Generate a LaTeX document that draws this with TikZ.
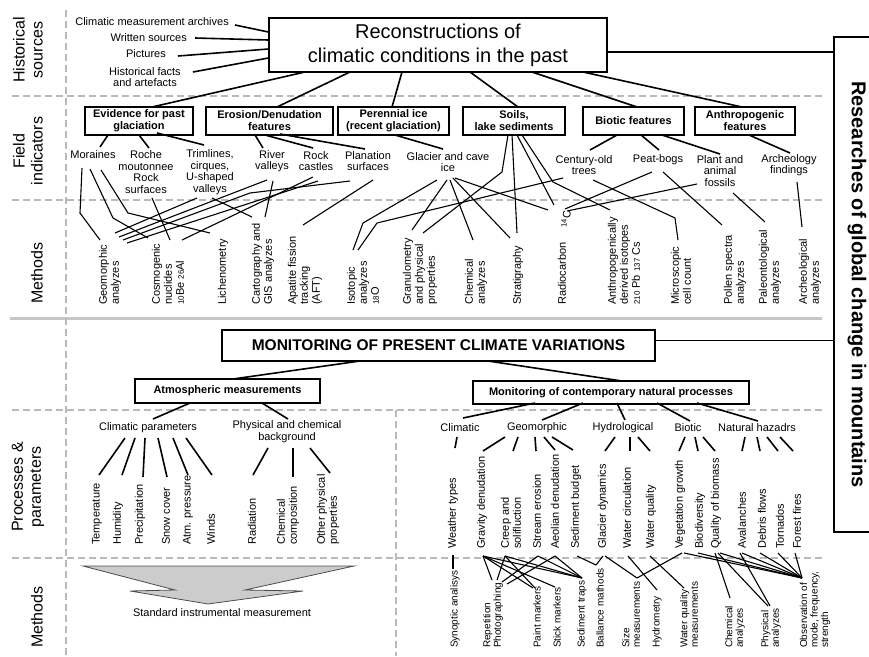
\documentclass[tikz,border=0pt]{standalone}
\usepackage{fontspec}
\setmainfont{Liberation Sans}
\usetikzlibrary{calc}
\newcommand{\smnum}[1]{{\fontsize{8}{8}\selectfont #1}}
\begin{document}
\begin{tikzpicture}[x=1pt,y=-1pt,
  txt/.style={font=\fontsize{11}{11.5}\selectfont,align=center,inner sep=0pt},
  vt/.style={font=\fontsize{11}{12}\selectfont,align=left,inner sep=0pt,rotate=90,anchor=west},
  vts/.style={vt,font=\fontsize{10}{10.5}\selectfont},
  fbox/.style={draw,line width=1.2pt,font=\bfseries\fontsize{11}{12}\selectfont,align=center,inner sep=0pt,minimum height=28pt},
  rowlab/.style={rotate=90,font=\fontsize{16}{18}\selectfont,align=center,inner sep=0pt},
  grid/.style={gray!55,line width=1.5pt,dash pattern=on 7pt off 4pt},
  conn/.style={line width=1.6pt},
  thin/.style={line width=1.1pt}
]
\useasboundingbox (0,0) rectangle (869,656);

% ---------- section grid ----------
\draw[grid] (12,96) -- (822,96);
\draw[grid] (12,200) -- (822,200);
\draw[gray!45,line width=3pt] (10,318) -- (822,318);
\draw[grid] (12,410) -- (822,410);
\draw[grid] (12,558) -- (822,558);
\draw[grid] (66,10) -- (66,656);
\draw[grid] (396,410) -- (396,656);

% ---------- row labels ----------
\node[rowlab] (rl1) at (28,50) {Historical\\sources};
\node[rowlab] (rl2) at (28,151) {Field\\indicators};
\node[rowlab] (rl3) at (37,273) {Methods};
\node[rowlab] (rl4) at (28,487) {Processes \&\\parameters};
\node[rowlab] (rl5) at (37,617) {Methods};

% ---------- overall frame on the right ----------
\node[draw,line width=1.2pt,rotate=-90,minimum width=495pt,minimum height=46pt,
      font=\bfseries\fontsize{20}{22}\selectfont,inner sep=0pt] (rb) at (857,284.5)
      {Researches of global change in mountains};

% ---------- reconstructions ----------
\node[draw,line width=1.2pt,minimum width=338pt,minimum height=54pt,
      font=\fontsize{20}{24}\selectfont,align=center,inner sep=0pt] (rec) at (438,45)
      {Reconstructions of\\climatic conditions in the past};
\draw[conn] ([shift={(0,7)}]rec.east) coordinate (r1) -- (r1 -| rb.south);

\node[txt,anchor=east] (hs1) at (229,22) {Climatic measurement archives};
\node[txt,anchor=east] (hs2) at (187,38) {Written sources};
\node[txt,anchor=east] (hs3) at (166,54) {Pictures};
\node[txt] (hs4) at (145,77) {Historical facts\\and artefacts};
\draw[conn] ([shift={(6,3)}]hs1.east) -- ([shift={(0,-13)}]rec.west);
\draw[conn] ([shift={(8,0)}]hs2.east) -- ([shift={(0,-5)}]rec.west);
\draw[conn] ([shift={(12,2)}]hs3.east) -- ([shift={(0,4)}]rec.west);
\draw[conn] ([shift={(48,-5)}]hs4.center) -- ([shift={(0,13)}]rec.west);

% field indicator groups
\node[fbox,minimum width=108pt] (ev) at (139,121) {Evidence for past\\glaciation};
\node[fbox,minimum width=127pt] (er) at (269.5,121) {Erosion/Denudation\\features};
\node[fbox,minimum width=111pt] (pi) at (393.5,121) {Perennial ice\\(recent glaciation)};
\node[fbox,minimum width=102pt] (so) at (514,121) {Soils,\\lake sediments};
\node[fbox,minimum width=101pt] (bi) at (633.5,121) {Biotic features};
\node[fbox,minimum width=100pt] (an) at (745,121) {Anthropogenic\\features};

\draw[conn] ([shift={(-133,27)}]rec.center) -- ([shift={(13,-14)}]ev.center);
\draw[conn] ([shift={(-88,27)}]rec.center) -- ([shift={(7.5,-14)}]er.center);
\draw[conn] ([shift={(-36,27)}]rec.center) -- ([shift={(-1.5,-14)}]pi.center);
\draw[conn] ([shift={(32,27)}]rec.center) -- ([shift={(4,-14)}]so.center);
\draw[conn] ([shift={(94,27)}]rec.center) -- ([shift={(3.5,-14)}]bi.center);
\draw[conn] ([shift={(145,27)}]rec.center) -- ([shift={(-3,-14)}]an.center);

% field indicators
\node[txt] (mor) at (93,155) {Moraines};
\node[txt] (roc) at (146,172) {Roche\\moutonnee\\Rock\\surfaces};
\node[txt] (tri) at (210,172) {Trimlines,\\cirques,\\U-shaped\\valleys};
\node[txt] (riv) at (272,161) {River\\valleys};
\node[txt] (rca) at (316,161) {Rock\\castles};
\node[txt] (pla) at (368,161) {Planation\\surfaces};
\node[txt] (gla) at (448,162) {Glacier and cave\\ice};
\node[txt] (cen) at (584,165) {Century-old\\trees};
\node[txt] (pea) at (658,160) {Peat-bogs};
\node[txt] (fos) at (720,171) {Plant and\\animal\\fossils};
\node[txt] (arc) at (789,165) {Archeology\\findings};

\draw[conn] ([shift={(-31,14)}]ev.center) -- ([shift={(7,-8)}]mor.center);
\draw[conn] ([shift={(0,14)}]ev.center) -- ([shift={(3,-24)}]roc.center);
\draw[conn] ([shift={(18,12)}]ev.center) -- ([shift={(-6,-27)}]tri.center);
\draw[conn] ([shift={(-14.5,14)}]er.center) -- ([shift={(-9,-13)}]riv.center);
\draw[conn] ([shift={(-4.5,14)}]er.center) -- ([shift={(-3,-13)}]rca.center);
\draw[conn] ([shift={(10.5,13)}]er.center) -- ([shift={(-3,-12)}]pla.center);
\draw[conn] ([shift={(1.5,14)}]pi.center) -- ([shift={(-5,-13)}]gla.center);
\draw[conn] ([shift={(-16.5,14)}]bi.center) -- ([shift={(6,-15)}]cen.center);
\draw[conn] ([shift={(7.5,14)}]bi.center) -- ([shift={(1,-10)}]pea.center);
\draw[conn] ([shift={(28.5,14)}]bi.center) -- ([shift={(0,-17)}]fos.center);
\draw[conn] ([shift={(4,14)}]an.center) -- ([shift={(1,-12)}]arc.center);

% methods of reconstruction
\node[vt] (geo) at (110,305) {Geomorphic\\analyzes};
\node[vt] (cos) at (168,305) {Cosmogenic\\nuclides\\\smnum{10}Be \smnum{26}Al};
\node[vt] (lic) at (223,305) {Lichenometry};
\node[vt] (car) at (263,305) {Cartography and\\GIS analyzes};
\node[vt] (apa) at (305,305) {Apatite fission\\tracking\\(AFT)};
\node[vt] (iso) at (363,305) {Isotopic\\analyzes\\\smnum{18}O};
\node[vt] (gra) at (420,305) {Granulometry\\and physical\\properties};
\node[vt] (che) at (476,305) {Chemical\\analyzes};
\node[vt] (str) at (518,305) {Stratigraphy};
\node[vt] (rad) at (562,305) {Radiocarbon};
\node[vt] (r14) at (566,228) {\textsuperscript{14}C};
\node[vt] (ant) at (624,305) {Anthropogenically\\derived isotopes\\\smnum{210} Pb \smnum{137} Cs};
\node[vt] (mic) at (681,305) {Microscopic\\cell count};
\node[vt] (pol) at (735,305) {Pollen spectra\\analyzes};
\node[vt] (pal) at (770,305) {Paleontological\\analyzes};
\node[vt] (marc) at (810,305) {Archeological\\analyzes};

\draw[thin] ([shift={(-11,13)}]mor.center) -- (80,213) -- ([shift={(-10,-65)}]geo.west);
\draw[thin] ([shift={(-3,14)}]mor.center) -- (113,218) -- ([shift={(-20,-67)}]cos.west);
\draw[thin] ([shift={(8,15)}]mor.center) -- (128,213) -- ([shift={(-13,-72)}]lic.west);
\draw[thin] ([shift={(6,26)}]roc.center) -- ([shift={(2,-65)}]cos.west);
\draw[thin] ([shift={(2,26)}]tri.center) -- ([shift={(-11,-88)}]car.west);
\draw[thin] ([shift={(-13,26)}]tri.center) -- ([shift={(5,-72)}]geo.west);
\draw[thin] ([shift={(-5,19)}]riv.center) -- ([shift={(9,-68)}]geo.west);
\draw[thin] ([shift={(1,20)}]riv.center) -- ([shift={(2,-88)}]car.west);
\draw[thin] ([shift={(-3,16)}]rca.center) -- ([shift={(14,-65)}]cos.west);
\draw[thin] ([shift={(2,20)}]rca.center) -- ([shift={(17,-62)}]geo.west);
\draw[thin] ([shift={(-18,20)}]pla.center) -- (250,193) -- ([shift={(13,-65)}]geo.west);
\draw[thin] ([shift={(5,19)}]pla.center) -- ([shift={(-2,-80)}]apa.west);
\draw[thin] ([shift={(-11,18)}]gla.center) -- (363,223) -- ([shift={(-10,-55)}]iso.west);
\draw[thin] ([shift={(-1,18)}]gla.center) -- ([shift={(-8,-75)}]gra.west);
\draw[thin] ([shift={(2,18)}]gla.center) -- ([shift={(-3,-65)}]che.west);
\draw[thin] ([shift={(5,16)}]gla.center) -- ([shift={(-8,-67)}]str.west);
\draw[thin] ([shift={(7,16)}]gla.center) -- ([shift={(-18,-18)}]r14.west);
\draw[thin] ([shift={(-6,14)}]so.center) -- (502,172) -- ([shift={(3,-72)}]gra.west);
\draw[thin] ([shift={(-2,14)}]so.center) -- ([shift={(-1,-72)}]str.west);
\draw[thin] ([shift={(3,14)}]so.center) -- ([shift={(-12,-23)}]r14.west);
\draw[thin] ([shift={(8,14)}]so.center) -- (553,182) -- ([shift={(-14,-95)}]ant.west);
\draw[thin] ([shift={(-21,13)}]cen.center) -- (377,223) -- ([shift={(-5,-55)}]iso.west);
\draw[thin] ([shift={(9,15)}]cen.center) -- (675,218) -- ([shift={(-3,-65)}]mic.west);
\draw[thin] ([shift={(-6,12)}]pea.center) -- ([shift={(-1,-19)}]r14.west);
\draw[thin] ([shift={(5,12)}]pea.center) -- ([shift={(-13,-80)}]pol.west);
\draw[thin] ([shift={(-23,13)}]fos.center) -- ([shift={(1,-17)}]r14.west);
\draw[thin] ([shift={(13,22)}]fos.center) -- ([shift={(-5,-83)}]pal.west);
\draw[thin] ([shift={(8,17)}]arc.center) -- ([shift={(-8,-78)}]marc.west);

% ---------- monitoring ----------
\node[draw,line width=1.2pt,minimum width=433pt,minimum height=31pt,
      font=\bfseries\fontsize{15.5}{17}\selectfont,inner sep=0pt] (mon) at (438.5,345.5)
      {MONITORING OF PRESENT CLIMATE VARIATIONS};
\draw[conn] ([shift={(0,-5)}]mon.east) coordinate (m1) -- (m1 -| rb.south);

\node[fbox,minimum width=185pt,minimum height=24pt] (atm) at (227.5,391) {Atmospheric measurements};
\node[fbox,minimum width=276pt,minimum height=23pt] (nat) at (611,392.5) {Monitoring of contemporary natural processes};
\draw[conn] ([shift={(-78.5,15.5)}]mon.center) -- ([shift={(5.5,-12)}]atm.center);
\draw[conn] ([shift={(49.5,15.5)}]mon.center) -- ([shift={(11,-11.5)}]nat.center);

% atmospheric branch
\node[txt] (cp) at (148,428) {Climatic parameters};
\node[txt] (pc) at (287,431.5) {Physical and chemical\\background};
\draw[conn] ([shift={(-37.5,12)}]atm.center) -- ([shift={(5,-9)}]cp.center);
\draw[conn] ([shift={(34.5,12)}]atm.center) -- ([shift={(1,-12.5)}]pc.center);

\node[vt] (p1) at (97,545) {Temperature};
\node[vt] (p2) at (118,545) {Humidity};
\node[vt] (p3) at (140,545) {Precipitation};
\node[vt] (p4) at (166,545) {Snow cover};
\node[vt] (p5) at (188,545) {Atm. pressure};
\node[vt] (p6) at (211,545) {Winds};
\node[vt] (p7) at (252,545) {Radiation};
\node[vt] (p8) at (288,545) {Chemical\\composition};
\node[vt] (p9) at (328,545) {Other physical\\properties};

\draw[conn] ([shift={(-23,10)}]cp.center) -- ([shift={(2,-70)}]p1.west);
\draw[conn] ([shift={(-13,10)}]cp.center) -- ([shift={(4,-70)}]p2.west);
\draw[conn] ([shift={(-3,10)}]cp.center) -- ([shift={(3,-68)}]p3.west);
\draw[conn] ([shift={(10,10)}]cp.center) -- ([shift={(1,-68)}]p4.west);
\draw[conn] ([shift={(25,10)}]cp.center) -- ([shift={(0,-70)}]p5.west);
\draw[conn] ([shift={(38,10)}]cp.center) -- ([shift={(1,-70)}]p6.west);
\draw[conn] ([shift={(-19,16.5)}]pc.center) -- ([shift={(1,-70)}]p7.west);
\draw[conn] ([shift={(6,16.5)}]pc.center) -- ([shift={(5,-68)}]p8.west);
\draw[conn] ([shift={(23,16.5)}]pc.center) -- ([shift={(2,-72)}]p9.west);

\draw[fill=gray!40,draw=gray!60!black,line width=0.8pt]
  (83,566) -- (175,590) -- (130,591) -- (208,604) -- (303,591) -- (245,590) -- (354,566) -- cycle;
\node[txt] (sim) at (222,613) {Standard instrumental measurement};

% natural processes branch
\node[txt] (cl) at (460,428) {Climatic};
\node[txt] (ge) at (537,428) {Geomorphic};
\node[txt] (hy) at (623,428) {Hydrological};
\node[txt] (bt) at (688,428) {Biotic};
\node[txt] (nh) at (757,428) {Natural hazadrs};
\draw[conn] ([shift={(-76,10.5)}]nat.center) -- ([shift={(3,-10)}]cl.center);
\draw[conn] ([shift={(-28,10.5)}]nat.center) -- ([shift={(5,-8)}]ge.center);
\draw[conn] ([shift={(6,10.5)}]nat.center) -- ([shift={(2,-8)}]hy.center);
\draw[conn] ([shift={(46,10.5)}]nat.center) -- ([shift={(2,-7)}]bt.center);
\draw[conn] ([shift={(86,10.5)}]nat.center) -- ([shift={(1,-7)}]nh.center);

\node[vt] (wt) at (453,549) {Weather types};
\node[vt] (gd) at (482,549) {Gravity denudation};
\node[vt] (cs) at (511,549) {Creep and\\solifluction};
\node[vt] (se) at (537,549) {Stream erosion};
\node[vt] (ad) at (555,549) {Aeolian denudation};
\node[vt] (sb) at (576,549) {Sediment budget};
\node[vt] (gld) at (603,549) {Glacier dynamics};
\node[vt] (wc) at (627,549) {Water circulation};
\node[vt] (wq) at (651,549) {Water quality};
\node[vt] (vg) at (680,549) {Vegetation growth};
\node[vt] (bd) at (700,549) {Biodiversity};
\node[vt] (qb) at (716,549) {Quality of biomass};
\node[vt] (av) at (742,549) {Avalanches};
\node[vt] (df) at (762,549) {Debris flows};
\node[vt] (to) at (780,549) {Tornados};
\node[vt] (ff) at (797,549) {Forest fires};

\draw[conn] ([shift={(-3,9)}]cl.center) -- ([shift={(2,-101)}]wt.west);
\draw[conn] ([shift={(-32,9)}]ge.center) -- ([shift={(1,-98)}]gd.west);
\draw[conn] ([shift={(-19,9)}]ge.center) -- ([shift={(2,-98)}]cs.west);
\draw[conn] ([shift={(-2,9)}]ge.center) -- ([shift={(-1,-98)}]se.west);
\draw[conn] ([shift={(7,9)}]ge.center) -- ([shift={(0,-99)}]ad.west);
\draw[conn] ([shift={(15,9)}]ge.center) -- ([shift={(-3,-99)}]sb.west);
\draw[conn] ([shift={(-8,9)}]hy.center) -- ([shift={(2,-98)}]gld.west);
\draw[conn] ([shift={(7,9)}]hy.center) -- ([shift={(3,-98)}]wc.west);
\draw[conn] ([shift={(15,9)}]hy.center) -- ([shift={(-1,-98)}]wq.west);
\draw[conn] ([shift={(-3,9)}]bt.center) -- ([shift={(-1,-98)}]vg.west);
\draw[conn] ([shift={(7,9)}]bt.center) -- ([shift={(-2,-98)}]bd.west);
\draw[conn] ([shift={(15,9)}]bt.center) -- ([shift={(-1,-98)}]qb.west);
\draw[conn] ([shift={(-12,9)}]nh.center) -- ([shift={(0,-98)}]av.west);
\draw[conn] ([shift={(0,9)}]nh.center) -- ([shift={(-2,-98)}]df.west);
\draw[conn] ([shift={(10,9)}]nh.center) -- ([shift={(-2,-98)}]to.west);
\draw[conn] ([shift={(23,9)}]nh.center) -- ([shift={(-4,-98)}]ff.west);

% monitoring methods
\node[vts] (sy) at (455,648) {Synoptic analisys};
\node[vts] (rp) at (493,648) {Repetition\\Photographing};
\node[vts] (pm) at (537,648) {Paint markers};
\node[vts] (sm) at (557,648) {Stick markers};
\node[vts] (st) at (582,648) {Sediment traps};
\node[vts] (bm) at (600,648) {Ballance mathods};
\node[vts] (sz) at (631,648) {Size\\measurements};
\node[vts] (hm) at (657,648) {Hydrometry};
\node[vts] (wqm) at (689,648) {Water quality\\measurements};
\node[vts] (ca) at (735,648) {Chemical\\analyzes};
\node[vts] (pa) at (771,648) {Physical\\analyzes};
\node[vts] (ob) at (815,648) {Observation of\\mode, frequency,\\strength};

\draw[thin] ([shift={(0,6)}]wt.west) -- ([shift={(-2,-79)}]sy.west);
\draw[thin] ([shift={(1,7)}]gd.west) -- ([shift={(-1,-68)}]rp.west);
\draw[thin] ([shift={(1,7)}]gd.west) -- ([shift={(-4,-60)}]pm.west);
\draw[thin] ([shift={(1,7)}]gd.west) -- ([shift={(-2,-61)}]sm.west);
\draw[thin] ([shift={(1,7)}]gd.west) -- ([shift={(0,-70)}]st.west);
\draw[thin] ([shift={(-6,7)}]cs.west) -- ([shift={(4,-68)}]rp.west);
\draw[thin] ([shift={(-6,7)}]cs.west) -- ([shift={(-2,-60)}]pm.west);
\draw[thin] ([shift={(-6,7)}]cs.west) -- ([shift={(0,-70)}]st.west);
\draw[thin] ([shift={(1,7)}]se.west) -- ([shift={(9,-66)}]rp.west);
\draw[thin] ([shift={(1,7)}]se.west) -- ([shift={(0,-70)}]st.west);
\draw[thin] ([shift={(0,7)}]ad.west) -- ([shift={(14,-64)}]rp.west);
\draw[thin] ([shift={(0,7)}]ad.west) -- ([shift={(0,-70)}]st.west);
\draw[thin] ([shift={(1,7)}]sb.west) -- ([shift={(-4,-83)}]bm.west);
\draw[thin] ([shift={(0,7)}]gld.west) -- ([shift={(-4,-83)}]bm.west);
\draw[thin] ([shift={(2,7)}]gld.west) -- ([shift={(6,-70)}]sz.west);
\draw[thin] ([shift={(1,7)}]wc.west) -- ([shift={(0,-58)}]hm.west);
\draw[thin] ([shift={(-1,7)}]wq.west) -- ([shift={(-5,-60)}]wqm.west);
\draw[thin] ([shift={(2,4)}]vg.west) -- ([shift={(6,-70)}]sz.west);
\draw[thin] ([shift={(4,4)}]vg.west) -- ([shift={(-13,-70)}]ob.west);
\draw[thin] ([shift={(-2,4)}]bd.west) -- ([shift={(-13,-70)}]ob.west);
\draw[thin] ([shift={(-1,4)}]qb.west) -- ([shift={(-5,-50)}]ca.west);
\draw[thin] ([shift={(2,4)}]qb.west) -- ([shift={(-3,-42)}]pa.west);
\draw[thin] ([shift={(4,4)}]qb.west) -- ([shift={(-13,-70)}]ob.west);
\draw[thin] ([shift={(-2,4)}]av.west) -- ([shift={(-1,-42)}]pa.west);
\draw[thin] ([shift={(0,4)}]av.west) -- ([shift={(-13,-70)}]ob.west);
\draw[thin] ([shift={(-2,4)}]df.west) -- ([shift={(-13,-70)}]ob.west);
\draw[thin] ([shift={(-2,4)}]to.west) -- ([shift={(-13,-70)}]ob.west);
\draw[thin] ([shift={(-2,4)}]ff.west) -- ([shift={(-13,-70)}]ob.west);

\end{tikzpicture}
\end{document}
